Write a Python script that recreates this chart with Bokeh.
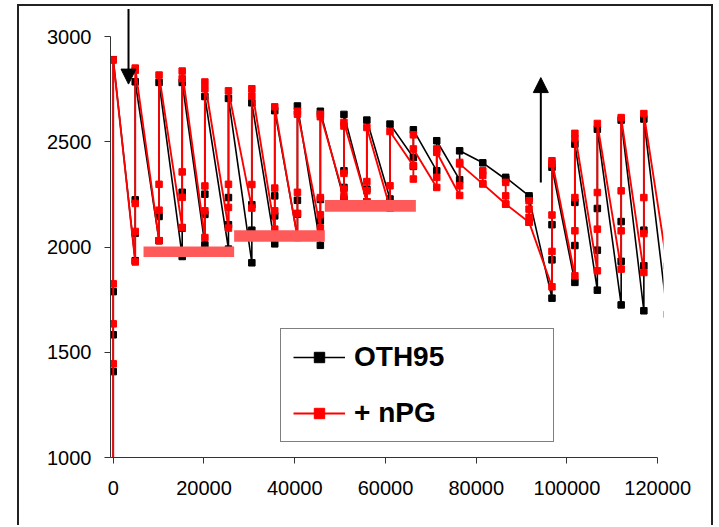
from bokeh.plotting import figure
from bokeh.models import Arrow, NormalHead, FixedTicker, Legend, LegendItem
from bokeh.embed import file_html
from bokeh.resources import INLINE

# ---- data ----
cycle_times = [0, 4850, 10100, 15200, 20200, 25400, 30550, 35600, 40600, 45650,
               50850, 55900, 61000, 66150, 71300, 76350, 81450, 86500, 91650,
               96700, 101750, 106700, 111950, 116950, 122100]

oth95_values = [
    [900, 1408, 1583, 1788, 2890],
    [1935, 2066, 2224, 2785],
    [2030, 2145, 2782],
    [1955, 2090, 2260, 2782],
    [2010, 2155, 2251, 2715],
    [1990, 2106, 2235, 2706],
    [1925, 2080, 2201, 2685],
    [2015, 2148, 2243, 2648],
    [2050, 2156, 2222, 2670],
    [2008, 2125, 2226, 2645],
    [2226, 2283, 2362, 2630],
    [2215, 2275, 2603],
    [2228, 2584],
    [2425, 2383, 2557],
    [2362, 2505],
    [2319, 2457],
    [2400],
    [2322, 2331],
    [2243, 2232],
    [1757, 1939, 2106, 2379],
    [1832, 2007, 2212, 2489],
    [1795, 1985, 2183, 2560],
    [1725, 1932, 2121, 2603],
    [1697, 1911, 2080, 2608],
    [1680],
]

npg_values = [
    [900, 1445, 1635, 1825, 2889],
    [1929, 2074, 2207, 2840, 2850],
    [2030, 2175, 2298, 2817],
    [2093, 2236, 2357, 2800, 2836],
    [2045, 2172, 2290, 2752, 2784],
    [2090, 2188, 2298, 2742],
    [2185, 2297, 2718, 2752],
    [2085, 2172, 2280, 2666],
    [2045, 2160, 2260, 2631, 2645],
    [2090, 2153, 2235, 2619, 2631],
    [2240, 2275, 2350, 2575, 2592],
    [2215, 2267, 2311, 2568],
    [2185, 2291, 2549],
    [2386, 2323, 2533, 2466],
    [2283, 2331, 2466, 2450],
    [2245, 2291, 2402, 2395],
    [2300, 2362, 2340, 2300],
    [2204, 2243, 2307, 2204],
    [2118, 2220, 2180, 2141, 2118],
    [1811, 1979, 2152, 2395, 2410],
    [1863, 2077, 2235, 2515, 2540],
    [1887, 2085, 2259, 2587],
    [1895, 2077, 2267, 2615],
    [1879, 2064, 2235, 2634],
    [1910],
]

series_names = ["OTH95", "+ nPG"]

# highlighted plateau bands
band_x0 = [6680, 26650, 46640]
band_x1 = [26650, 46640, 66700]
band_y0 = [1952, 2025, 2167]
band_y1 = [2002, 2080, 2223]

# arrows (x, y_start, y_end)
arrow_x = [3370, 94240]
arrow_y_start = [3131, 2306]
arrow_y_end = [2774, 2805]

x_ticks = [0, 20000, 40000, 60000, 80000, 100000, 120000]
x_tick_labels = ["0", "20000", "40000", "60000", "80000", "100000", "120000"]
y_ticks = [1000, 1500, 2000, 2500, 3000]
y_tick_labels = ["1000", "1500", "2000", "2500", "3000"]


def flatten(times, clusters):
    xs, ys = [], []
    for t, vals in zip(times, clusters):
        for v in vals:
            xs.append(t)
            ys.append(v)
    return xs, ys


bx, by = flatten(cycle_times, oth95_values)
rx, ry = flatten(cycle_times, npg_values)

FONT = "Liberation Sans"

# frame starts slightly left of x=0 so the trace on the y axis is not clipped away
p = figure(width=696, height=521, x_range=(-600, 121280), y_range=(1000, 3142.7),
           output_backend="svg", toolbar_location=None,
           min_border_left=91, min_border_right=52, min_border_top=0,
           min_border_bottom=70)
p.styles = {"border-top": "2px solid #222", "border-left": "2px solid #222",
            "border-right": "2px solid #222", "margin-left": "17px",
            "margin-top": "4px"}
p.outline_line_color = None
p.xgrid.visible = False
p.ygrid.visible = False
p.background_fill_color = "white"
p.border_fill_color = "white"

bl = p.line(bx, by, line_color="black", line_width=1.6)
bs = p.scatter(bx, by, marker="square", size=6.5, fill_color="black", line_color="black")
rl = p.line(rx, ry, line_color="#ff0000", line_width=1.9)
rs = p.scatter(rx, ry, marker="square", size=6.5, fill_color="#ff0000", line_color="#ff0000")

p.quad(left=band_x0, right=band_x1, bottom=band_y0, top=band_y1,
       fill_color="#ff5a5a", line_color=None)

for xa, ys_, ye_ in zip(arrow_x, arrow_y_start, arrow_y_end):
    p.add_layout(Arrow(end=NormalHead(size=15, fill_color="black", line_color="black"),
                       x_start=xa, y_start=ys_, x_end=xa, y_end=ye_,
                       line_color="black", line_width=2))

for ax in (p.xaxis[0], p.yaxis[0]):
    ax.axis_line_color = "#333333"
    ax.axis_line_width = 1
    ax.major_tick_line_color = "#333333"
    ax.major_tick_out = 6
    ax.major_tick_in = 0
    ax.minor_tick_line_color = None
    ax.major_label_text_font = FONT
    ax.major_label_text_font_size = "20px"
    ax.major_label_text_color = "black"

p.xaxis[0].ticker = FixedTicker(ticks=x_ticks)
p.xaxis[0].major_label_overrides = dict(zip(x_ticks, x_tick_labels))
p.xaxis[0].bounds = (-600, 120000)
p.xaxis[0].major_label_standoff = 17
p.yaxis[0].ticker = FixedTicker(ticks=y_ticks)
p.yaxis[0].major_label_overrides = dict(zip(y_ticks, y_tick_labels))
p.yaxis[0].bounds = (1000, 3000)
p.yaxis[0].major_label_standoff = 13

legend = Legend(items=[LegendItem(label=series_names[0], renderers=[bl, bs]),
                       LegendItem(label=series_names[1], renderers=[rl, rs])],
                location=(170, 15), padding=12, spacing=24, margin=0,
                glyph_width=52, glyph_height=26, label_height=26, label_width=187,
                label_standoff=9, border_line_color="black", border_line_width=1,
                background_fill_color="white", background_fill_alpha=1,
                label_text_font=FONT, label_text_font_size="28px",
                label_text_font_style="bold", label_text_color="black")
p.add_layout(legend)

open("out.html", "w").write(file_html(p, INLINE))
